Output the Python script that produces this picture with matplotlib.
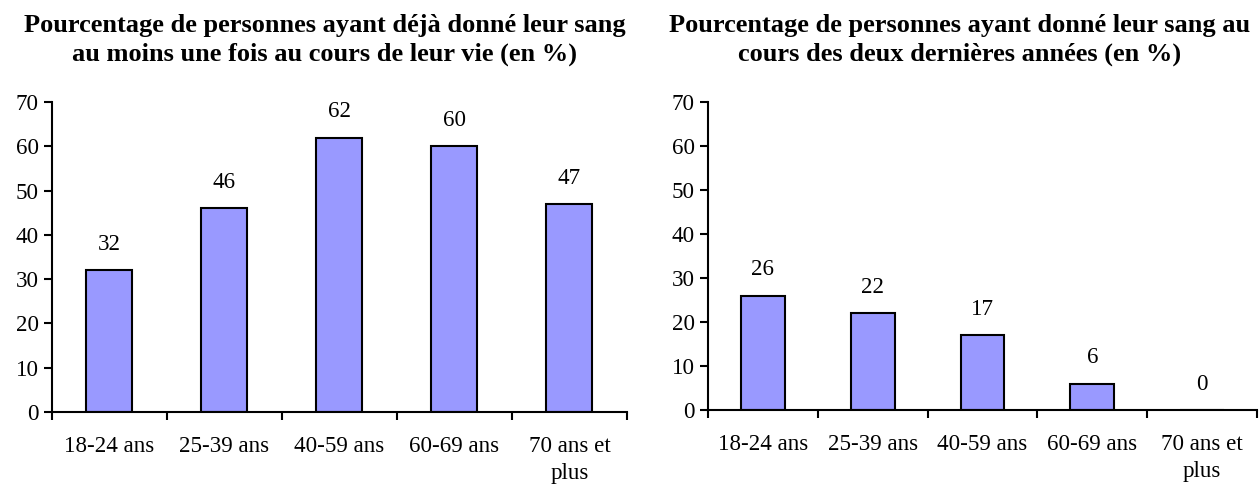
import matplotlib
matplotlib.use("Agg")
import matplotlib.pyplot as plt
import numpy as np

plt.rcParams['font.family'] = ['Liberation Serif', 'DejaVu Serif']

categories = ["18-24 ans", "25-39 ans", "40-59 ans", "60-69 ans", "70 ans et\nplus"]
deja_donne = [32, 46, 62, 60, 47]
deux_ans = [26, 22, 17, 6, 0]

titre_gauche = "Pourcentage de personnes ayant déjà donné leur sang\nau moins une fois au cours de leur vie (en %)"
titre_droite = "Pourcentage de personnes ayant donné leur sang au\ncours des deux dernières années (en %)"

couleur = "#9999ff"
taille = 16.6

fig = plt.figure(figsize=(12.59, 4.88), dpi=100)
ax1 = fig.add_axes([0.0413, 0.1557, 0.4567, 0.635])
ax2 = fig.add_axes([0.5624, 0.1598, 0.436, 0.631])


def dessiner(ax, valeurs):
    x = np.arange(len(valeurs))
    bars = ax.bar(x, valeurs, width=0.4, color=couleur, edgecolor="black", linewidth=1.5)
    for b, v in zip(bars, valeurs):
        ax.annotate(str(v), (b.get_x() + b.get_width() / 2, v), xytext=(0, 11),
                    textcoords="offset points", ha="center", va="bottom", fontsize=taille)
    ax.set_xlim(-0.5, len(valeurs) - 0.5)
    ax.set_ylim(0, 70)
    ax.set_yticks(range(0, 71, 10))
    ax.tick_params(axis="y", labelsize=taille, width=1.5, length=6, direction="out")
    # graduations de l'axe x entre les categories
    ax.set_xticks(np.arange(-0.5, len(valeurs), 1.0))
    ax.set_xticklabels([])
    ax.set_xticks(x, minor=True)
    ax.set_xticklabels(categories, minor=True, fontsize=taille, linespacing=1.4)
    ax.tick_params(axis="x", which="major", width=1.5, length=6, direction="out")
    ax.tick_params(axis="x", which="minor", length=0, pad=17)
    for s in ["top", "right"]:
        ax.spines[s].set_visible(False)
    for s in ["left", "bottom"]:
        ax.spines[s].set_linewidth(1.5)


dessiner(ax1, deja_donne)
dessiner(ax2, deux_ans)

fig.text(325 / 1259, 1 - 40 / 488, titre_gauche, ha="center", va="center",
         fontsize=19, fontweight="bold", linespacing=1.3)
fig.text(960 / 1259, 1 - 40 / 488, titre_droite, ha="center", va="center",
         fontsize=19, fontweight="bold", linespacing=1.3)

fig.savefig("out.png", dpi=100)
